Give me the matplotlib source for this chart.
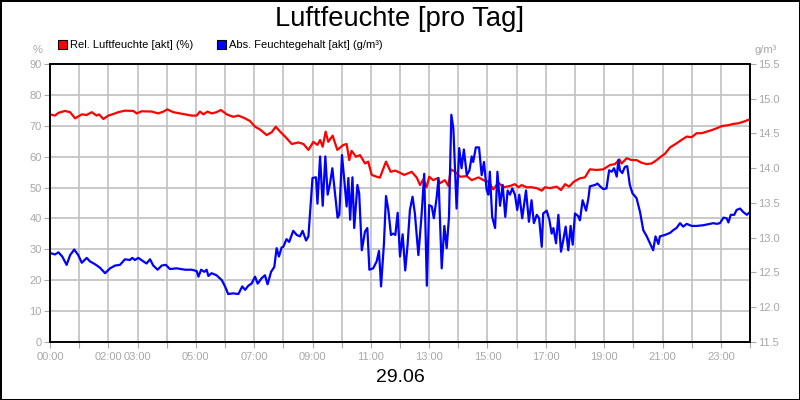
import numpy as np
import matplotlib
matplotlib.use('Agg')
import matplotlib.pyplot as plt
from matplotlib.patches import Rectangle

matplotlib.rc('font', family=['Liberation Sans', 'DejaVu Sans'], size=8)

# Rel. Luftfeuchte (%), Stunden
red_t = [0.0, 0.17, 0.29, 0.51, 0.69, 0.86, 1.09, 1.26, 1.43, 1.6, 1.68, 1.83, 2.0, 2.23, 2.34,
         2.57, 2.86, 2.97, 3.14, 3.49, 3.71, 3.89, 4.02, 4.23, 4.63, 4.86, 5.03, 5.14, 5.26, 5.4,
         5.54, 5.71, 5.86, 6.06, 6.28, 6.46, 6.69, 6.86, 7.03, 7.2, 7.43, 7.6, 7.74, 7.89, 8.06,
         8.29, 8.51, 8.69, 8.86, 9.03, 9.17, 9.26, 9.35, 9.45, 9.54, 9.69, 9.85, 10.06, 10.17,
         10.26, 10.34, 10.49, 10.63, 10.8, 10.91, 11.03, 11.2, 11.31, 11.52, 11.68, 11.83, 12.0,
         12.14, 12.28, 12.4, 12.57, 12.69, 12.8, 12.91, 13.0, 13.14, 13.28, 13.37, 13.54, 13.66,
         13.74, 13.89, 14.06, 14.29, 14.46, 14.69, 14.86, 15.03, 15.2, 15.37, 15.54, 15.77, 15.94,
         16.06, 16.17, 16.34, 16.51, 16.69, 16.86, 16.97, 17.14, 17.37, 17.52, 17.66, 17.8, 17.96,
         18.17, 18.34, 18.51, 18.74, 18.97, 19.2, 19.37, 19.52, 19.6, 19.77, 19.94, 20.11, 20.29,
         20.46, 20.63, 20.8, 20.97, 21.08, 21.26, 21.48, 21.65, 21.83, 22.0, 22.17, 22.34, 22.51,
         22.69, 22.86, 23.03, 23.26, 23.43, 23.6, 23.77, 24.0]
red_v = [73.7, 73.3, 74.2, 74.8, 74.4, 72.4, 73.7, 73.5, 74.4, 73.3, 73.7, 72.2, 73.3, 74.0, 74.4,
         74.9, 74.8, 74.0, 74.7, 74.6, 74.0, 74.6, 75.3, 74.4, 73.7, 73.3, 73.3, 74.6, 73.7, 74.6,
         74.0, 74.4, 75.1, 73.7, 72.9, 73.3, 72.4, 71.5, 69.7, 68.8, 67.0, 67.9, 69.7, 68.1, 66.5,
         64.1, 64.6, 64.1, 62.2, 64.8, 63.8, 65.4, 63.2, 68.1, 64.8, 66.8, 62.2, 63.8, 64.1,
         58.9, 61.9, 60.0, 60.5, 57.8, 58.4, 54.1, 53.5, 53.2, 58.4, 55.1, 55.5, 54.8,
         54.1, 54.6, 55.1, 53.3, 50.8, 52.7, 50.1, 53.5, 52.4, 53.0, 51.4, 52.4, 50.5,
         55.9, 55.1, 53.5, 53.7, 52.4, 53.3, 52.4, 51.9, 49.4, 51.6, 50.1, 50.5, 51.1,
         50.1, 50.8, 50.1, 50.1, 49.8, 49.0, 50.1, 49.8, 50.3, 49.2, 51.1, 50.3, 51.9,
         53.0, 53.3, 55.9, 55.7, 55.9, 57.3, 57.6, 59.1, 57.8, 59.5, 58.9, 58.9, 58.0,
         57.6, 57.8, 58.9, 60.2, 60.9, 63.0, 64.3, 65.4, 66.5, 66.3, 67.6, 67.6, 68.1,
         68.6, 69.2, 69.9, 70.2, 70.6, 70.8, 71.3, 72.1]

# Abs. Feuchtegehalt (g/m³)
blue_t = [0.0, 0.17, 0.29, 0.42, 0.57, 0.69, 0.83, 0.97, 1.09, 1.26, 1.37, 1.54, 1.71, 1.89, 2.06,
          2.23, 2.4, 2.57, 2.74, 2.82, 2.91, 3.03, 3.2, 3.31, 3.43, 3.54, 3.69, 3.83, 3.97, 4.11,
          4.34, 4.63, 4.86, 5.03, 5.09, 5.18, 5.29, 5.37, 5.43, 5.54, 5.71, 5.89, 6.0, 6.11, 6.28,
          6.46, 6.59, 6.69, 6.8, 6.91, 7.03, 7.12, 7.26, 7.37, 7.46, 7.58, 7.69, 7.77, 7.85, 7.94,
          8.0, 8.11, 8.2, 8.34, 8.46, 8.57, 8.66, 8.78, 8.86, 9.0, 9.12, 9.17, 9.26, 9.35, 9.44,
          9.52, 9.6, 9.68, 9.77, 9.86, 9.92, 10.01, 10.09, 10.17, 10.23, 10.29, 10.37, 10.43, 10.54,
          10.6, 10.69, 10.8, 10.88, 10.95, 11.08, 11.2, 11.28, 11.35, 11.45, 11.52, 11.6, 11.69,
          11.77, 11.84, 11.92, 12.0, 12.09, 12.18, 12.26, 12.34, 12.43, 12.51, 12.63, 12.74, 12.83,
          12.92, 13.0, 13.09, 13.16, 13.26, 13.32, 13.43, 13.52, 13.6, 13.68, 13.76, 13.83, 13.94,
          14.03, 14.11, 14.19, 14.29, 14.38, 14.46, 14.51, 14.6, 14.71, 14.8, 14.88, 14.97, 15.03,
          15.08, 15.16, 15.26, 15.34, 15.43, 15.52, 15.61, 15.69, 15.77, 15.85, 15.94, 16.02, 16.09,
          16.19, 16.32, 16.42, 16.51, 16.59, 16.69, 16.77, 16.86, 16.91, 17.03, 17.12, 17.2, 17.26,
          17.35, 17.43, 17.52, 17.6, 17.68, 17.77, 17.85, 17.92, 18.0, 18.11, 18.17, 18.26, 18.38,
          18.46, 18.51, 18.69, 18.77, 18.86, 18.97, 19.08, 19.17, 19.26, 19.34, 19.43, 19.49, 19.54,
          19.62, 19.71, 19.79, 19.88, 19.97, 20.11, 20.23, 20.34, 20.46, 20.57, 20.68, 20.76, 20.86,
          20.91, 21.08, 21.26, 21.37, 21.48, 21.6, 21.71, 21.83, 22.0, 22.17, 22.4, 22.63, 22.74,
          22.86, 22.97, 23.09, 23.2, 23.26, 23.34, 23.46, 23.54, 23.66, 23.77, 23.89, 24.0]
blue_v = [12.78, 12.76, 12.79, 12.73, 12.61, 12.75, 12.83, 12.75, 12.64, 12.71, 12.66, 12.62, 12.57, 12.49, 12.56,
          12.60, 12.61, 12.69, 12.68, 12.71, 12.68, 12.71, 12.66, 12.63, 12.69, 12.60, 12.54, 12.60, 12.61, 12.55,
          12.56, 12.54, 12.54, 12.52, 12.44, 12.54, 12.51, 12.54, 12.45, 12.49, 12.46, 12.39, 12.30, 12.19, 12.20,
          12.19, 12.30, 12.25, 12.31, 12.34, 12.44, 12.34, 12.42, 12.46, 12.33, 12.51, 12.58, 12.85, 12.73, 12.86,
          12.87, 12.98, 12.94, 13.10, 13.04, 13.02, 13.10, 12.96, 13.02, 13.86, 13.87, 13.49, 14.17, 13.46, 14.17,
          13.62, 13.78, 14.00, 13.64, 13.29, 13.33, 14.19, 13.83, 13.45, 13.86, 13.26, 13.87, 13.14, 13.76,
          13.64, 12.82, 13.09, 13.14, 12.54, 12.56, 12.66, 12.81, 12.30, 12.92, 13.60, 13.40, 13.04,
          13.06, 13.04, 13.36, 12.73, 13.05, 12.53, 12.90, 13.40, 13.59, 13.35, 12.75, 13.33, 13.92,
          12.31, 13.47, 13.45, 13.28, 13.59, 13.86, 12.56, 13.17, 12.85, 13.30, 14.77, 14.57, 13.42,
          14.29, 14.00, 14.27, 13.90, 13.97, 14.17, 14.09, 14.30, 14.30, 13.90, 14.09, 13.69, 13.62,
          13.95, 13.30, 13.14, 13.95, 13.46, 13.76, 13.30, 13.68, 13.62, 13.71, 13.62, 13.40, 13.62,
          13.28, 13.68, 13.23, 13.54, 13.21, 13.33, 13.28, 12.87, 13.35, 13.39, 13.26, 13.06, 13.14,
          12.92, 13.33, 12.80, 12.97, 13.16, 12.82, 13.17, 12.90, 13.35, 13.31, 13.25, 13.54, 13.39,
          13.57, 13.74, 13.76, 13.78, 13.74, 13.70, 13.71, 13.97, 13.95, 14.00, 13.88, 14.12, 13.97,
          13.93, 14.02, 14.03, 13.76, 13.64, 13.57, 13.37, 13.11, 13.02, 12.92, 12.82, 13.02, 12.91,
          13.02, 13.04, 13.07, 13.11, 13.14, 13.21, 13.16, 13.20, 13.17, 13.17, 13.18, 13.20, 13.21,
          13.20, 13.21, 13.29, 13.28, 13.22, 13.33, 13.33, 13.40, 13.42, 13.37, 13.33, 13.37]

xtick_pos = [0, 2, 3, 5, 7, 9, 11, 13, 15, 17, 19, 21, 23]
xtick_lbl = ['00:00', '02:00', '03:00', '05:00', '07:00', '09:00', '11:00',
             '13:00', '15:00', '17:00', '19:00', '21:00', '23:00']
left_ticks = np.arange(0, 91, 10)
right_ticks = np.arange(11.5, 15.51, 0.5)

grey = '#a8a8a8'
fig = plt.figure(figsize=(8, 4), dpi=100)
fig.patch.set_facecolor('white')
fig.patch.set_edgecolor('black')
fig.patch.set_linewidth(2)

ax = fig.add_axes([0.0625, 0.145, 0.875, 0.695])
ax2 = ax.twinx()

ax.plot(red_t, red_v, color='#ff0000', lw=1.6, zorder=3)
ax2.plot(blue_t, blue_v, color='#0000ff', lw=1.6)

ax.set_xlim(0, 24)
ax.set_ylim(0, 90)
ax2.set_ylim(11.5, 15.5)

hours = np.arange(0, 25, 1)
hour_lbl = []
for h in hours:
    if h in xtick_pos:
        hour_lbl.append(xtick_lbl[xtick_pos.index(h)])
    else:
        hour_lbl.append('')
ax.set_xticks(hours)
ax.set_xticklabels(hour_lbl)
ax.tick_params(axis='x', length=4, color=grey, labelcolor=grey, labelsize=8, pad=3)
ax.set_yticks(left_ticks)
ax.tick_params(axis='y', length=4, color=grey, labelcolor=grey, labelsize=8, pad=2)
ax2.set_yticks(right_ticks)
ax2.set_yticklabels(['%.1f' % v for v in right_ticks])
ax2.tick_params(axis='y', length=4, color=grey, labelcolor=grey, labelsize=8, pad=2)

ax.grid(True, color='#c0c0c0', lw=1.2)
ax.set_axisbelow(True)
for sp in list(ax.spines.values()) + list(ax2.spines.values()):
    sp.set_color('black')
    sp.set_linewidth(1.2)

fig.text(0.5, 0.953, 'Luftfeuchte [pro Tag]', ha='center', va='center', fontsize=19.7)
fig.text(0.5, 0.055, '29.06', ha='center', va='center', fontsize=14)
fig.text(0.053, 0.875, '%', ha='right', va='center', color=grey, fontsize=8)
fig.text(0.943, 0.875, 'g/m³', ha='left', va='center', color=grey, fontsize=8)

# legend
fig.patches.append(Rectangle((0.073, 0.877), 0.011, 0.022, transform=fig.transFigure,
                             facecolor='#ff0000', edgecolor='black', lw=0.8))
fig.text(0.088, 0.888, 'Rel. Luftfeuchte [akt] (%)', ha='left', va='center', fontsize=8)
fig.patches.append(Rectangle((0.271, 0.877), 0.011, 0.022, transform=fig.transFigure,
                             facecolor='#0000ff', edgecolor='black', lw=0.8))
fig.text(0.286, 0.888, 'Abs. Feuchtegehalt [akt] (g/m³)', ha='left', va='center', fontsize=8)

fig.savefig('out.png', dpi=100, facecolor='white', edgecolor='black')
